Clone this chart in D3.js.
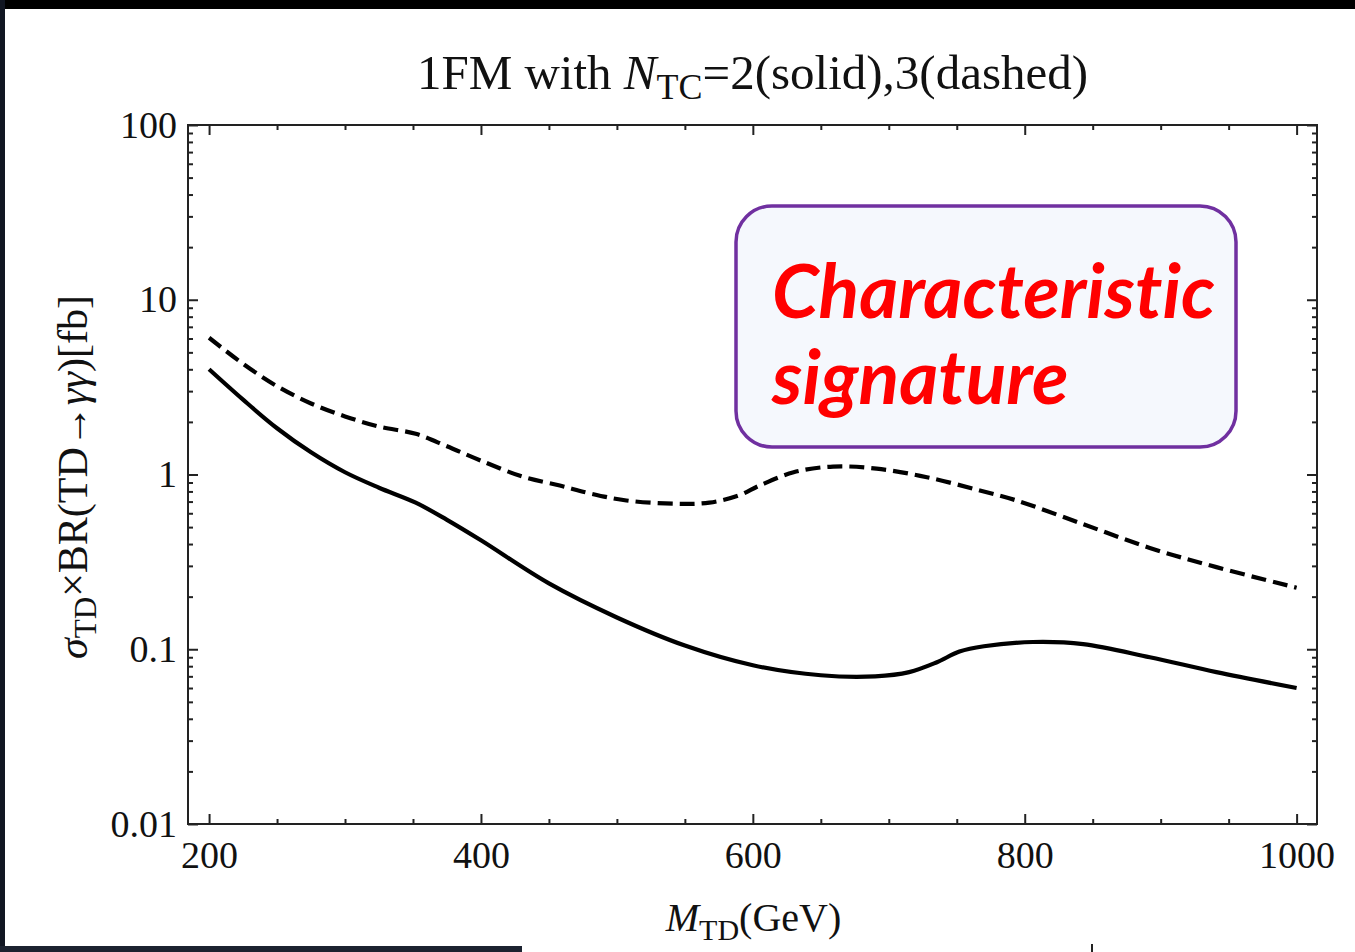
<!DOCTYPE html>
<html>
<meta charset="utf-8">
<script src="https://d3js.org/d3.v7.min.js"></script>
<style>
    body { margin: 0; background: #fff; }
    svg { display: block; }
    .tick text { font-family: "Liberation Serif", "Times New Roman", serif; font-size: 38px; fill: #111; }
    .serif { font-family: "Liberation Serif", "Times New Roman", serif; fill: #111; }
</style>
<body>
    <svg width="1355" height="952"></svg>
    <script>
        // curves: N_TC=2 (solid) and N_TC=3 (dashed)
        const solidMass = [200, 225, 250, 275, 300, 325, 352, 375, 400, 450, 500, 550, 600, 650, 690, 715, 735, 752, 770, 806, 843, 892, 941, 1000];
        const solidSigma = [4.0, 2.68, 1.84, 1.34, 1.03, 0.84, 0.69, 0.55, 0.42, 0.238, 0.152, 0.105, 0.081, 0.071, 0.070, 0.074, 0.084, 0.097, 0.104, 0.110, 0.107, 0.090, 0.074, 0.060];

        const dashedMass = [200, 225, 250, 275, 300, 325, 352, 375, 400, 431, 458, 480, 507, 544, 568, 590, 605, 630, 659, 691, 728, 767, 794, 843, 892, 941, 1000];
        const dashedSigma = [6.06, 4.3, 3.2, 2.55, 2.15, 1.88, 1.71, 1.45, 1.2, 0.97, 0.865, 0.78, 0.71, 0.68, 0.69, 0.76, 0.865, 1.03, 1.11, 1.08, 0.965, 0.81, 0.71, 0.52, 0.38, 0.295, 0.225];

        const xMajor = [200, 400, 600, 800, 1000];
        const xMinor = [250, 300, 350, 450, 500, 550, 650, 700, 750, 850, 900, 950];
        const yMajor = [0.01, 0.1, 1, 10, 100];
        const yLabels = ["0.01", "0.1", "1", "10", "100"];

        let svg = d3.select("svg"),
            frame = { left: 188, right: 1317, top: 125, bottom: 824 };

        // screen decoration (dark edges of the screenshot)
        svg.append("rect").attr("x", 0).attr("y", 0).attr("width", 1355).attr("height", 9).attr("fill", "#000");
        svg.append("rect").attr("x", 0).attr("y", 0).attr("width", 5).attr("height", 952).attr("fill", "#111622");
        svg.append("rect").attr("x", 0).attr("y", 946).attr("width", 522).attr("height", 6).attr("fill", "#1c2230");
        svg.append("rect").attr("x", 1091).attr("y", 944).attr("width", 2).attr("height", 8).attr("fill", "#222");

        let x = d3.scaleLinear().domain([184.5, 1015]).range([frame.left, frame.right]),
            y = d3.scaleLog().domain([0.01, 100]).range([frame.bottom, frame.top]);

        let yMinor = [];
        yMajor.slice(0, -1).forEach(d => d3.range(2, 10).forEach(k => yMinor.push(d * k)));

        let plot = svg.append("g");

        function addAxis(axis, tx, ty) {
            let g = plot.append("g").attr("transform", `translate(${tx},${ty})`).call(axis);
            g.select(".domain").remove();
            g.selectAll(".tick line").attr("stroke", "#222").attr("stroke-width", 2);
            return g;
        }

        // bottom / top
        addAxis(d3.axisBottom(x).tickValues(xMajor).tickSize(-10).tickPadding(17).tickFormat(d3.format("d")), 0, frame.bottom);
        addAxis(d3.axisBottom(x).tickValues(xMinor).tickSize(-5).tickFormat(""), 0, frame.bottom);
        addAxis(d3.axisTop(x).tickValues(xMajor).tickSize(-10).tickFormat(""), 0, frame.top);
        addAxis(d3.axisTop(x).tickValues(xMinor).tickSize(-5).tickFormat(""), 0, frame.top);

        // left / right
        addAxis(d3.axisLeft(y).tickValues(yMajor).tickSize(-10).tickPadding(11).tickFormat((d, i) => yLabels[i]), frame.left, 0);
        addAxis(d3.axisLeft(y).tickValues(yMinor).tickSize(-5).tickFormat(""), frame.left, 0);
        addAxis(d3.axisRight(y).tickValues(yMajor).tickSize(-10).tickFormat(""), frame.right, 0);
        addAxis(d3.axisRight(y).tickValues(yMinor).tickSize(-5).tickFormat(""), frame.right, 0);

        plot.append("rect")
            .attr("x", frame.left).attr("y", frame.top)
            .attr("width", frame.right - frame.left).attr("height", frame.bottom - frame.top)
            .attr("fill", "none").attr("stroke", "#222").attr("stroke-width", 2);

        let line = d3.line().x(d => x(d[0])).y(d => y(d[1])).curve(d3.curveCatmullRom.alpha(0.5));

        plot.append("path")
            .datum(d3.zip(solidMass, solidSigma))
            .attr("d", line)
            .attr("fill", "none").attr("stroke", "#000").attr("stroke-width", 4.2);

        plot.append("path")
            .datum(d3.zip(dashedMass, dashedSigma))
            .attr("d", line)
            .attr("fill", "none").attr("stroke", "#000").attr("stroke-width", 4.2)
            .attr("stroke-dasharray", "15,7");

        // title
        let title = svg.append("text").attr("class", "serif")
            .attr("x", (frame.left + frame.right) / 2).attr("y", 89)
            .attr("text-anchor", "middle").style("font-size", "49px");
        title.append("tspan").text("1FM with ");
        title.append("tspan").style("font-style", "italic").text("N");
        title.append("tspan").attr("dy", 10).style("font-size", "36px").text("TC");
        title.append("tspan").attr("dy", -10).text("=2(solid),3(dashed)");

        // x label
        let xl = svg.append("text").attr("class", "serif")
            .attr("x", (frame.left + frame.right) / 2 + 1).attr("y", 931)
            .attr("text-anchor", "middle").style("font-size", "40px");
        xl.append("tspan").style("font-style", "italic").text("M");
        xl.append("tspan").attr("dy", 9).style("font-size", "30px").text("TD");
        xl.append("tspan").attr("dy", -9).text("(GeV)");

        // y label
        let yl = svg.append("text").attr("class", "serif")
            .attr("transform", "translate(87,477) rotate(-90)")
            .attr("text-anchor", "middle").style("font-size", "42px");
        yl.append("tspan").style("font-style", "italic").text("σ");
        yl.append("tspan").attr("dy", 9).style("font-size", "31px").text("TD");
        yl.append("tspan").attr("dy", -9).text("×BR(TD→");
        yl.append("tspan").style("font-style", "italic").text("γγ");
        yl.append("tspan").text(")[fb]");

        // annotation box
        svg.append("rect")
            .attr("x", 736).attr("y", 206).attr("width", 500).attr("height", 241)
            .attr("rx", 36).attr("ry", 36)
            .attr("fill", "#f5f8fd").attr("stroke", "#7030a0").attr("stroke-width", 3.5);

        let note = svg.append("g").style("font-family", "Lato, 'Open Sans', sans-serif")
            .style("font-weight", "bold").style("font-style", "italic").style("fill", "#ff0000")
            .style("font-variant-ligatures", "none").style("font-feature-settings", "'liga' 0");
        let t1 = note.append("text").attr("x", 772).attr("y", 318).style("font-size", "100px").text("Characteristic");
        const fs = 100 * 443 / t1.node().getComputedTextLength();
        t1.style("font-size", fs + "px");
        note.append("text").attr("x", 772).attr("y", 404).style("font-size", fs + "px").text("signature");
    </script>
</body>
</html>
